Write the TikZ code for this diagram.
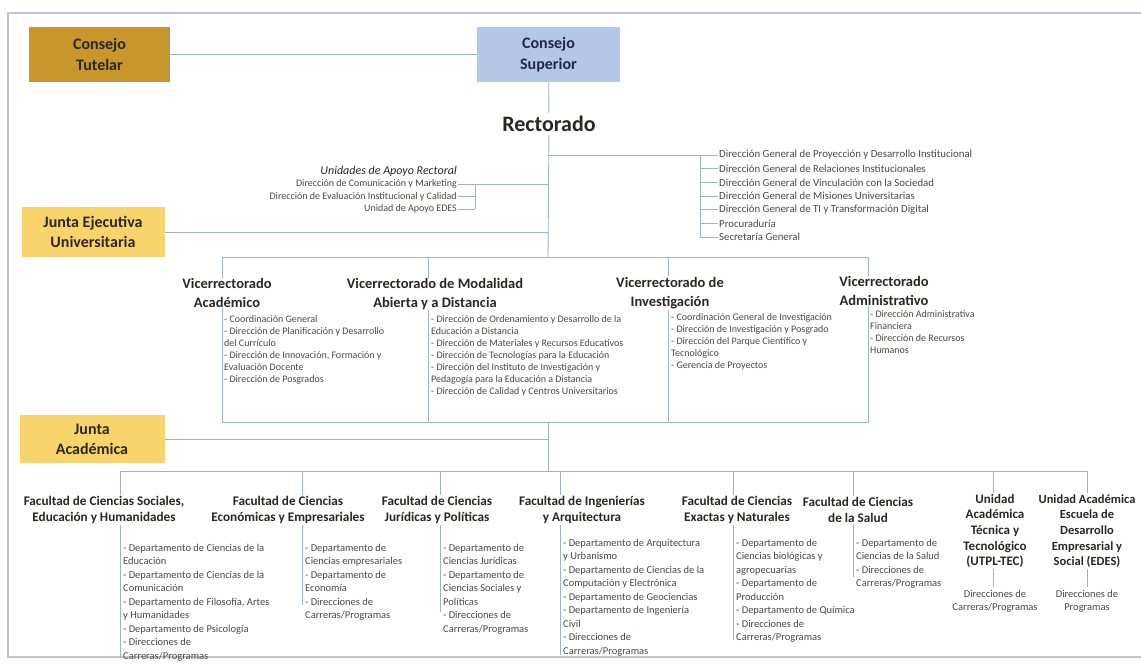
\documentclass[tikz,border=0pt]{standalone}
\usepackage{fontspec}
\setmainfont{Carlito}
\usetikzlibrary{positioning}
\definecolor{tutelar}{HTML}{C9962B}
\definecolor{superior}{HTML}{B4C7E7}
\definecolor{junta}{HTML}{F9D46C}
\definecolor{linea}{HTML}{9DB3C8}
\definecolor{marco}{HTML}{B9C5D0}
\definecolor{tinta}{HTML}{2B2720}
\definecolor{azul}{HTML}{1F2A44}
\newcommand{\fs}[2]{\fontsize{#1}{#2}\selectfont}
\tikzset{
  conn/.style={draw=linea, line width=0.9pt},
  organo/.style n args={2}{minimum width=#1, minimum height=#2, inner sep=0pt,
    align=center, text=tinta},
  vice/.style={fill=white, align=center, inner sep=1pt, text=tinta,
    font=\fs{14.5}{18.5}\bfseries},
  facu/.style={fill=white, align=center, inner sep=1pt, text=tinta,
    font=\fs{13.2}{16}\bfseries},
  lista/.style={align=left, anchor=north west, inner sep=1pt, text=tinta!85,
    font=\fs{10}{12}},
  flista/.style={lista, font=\fs{10.5}{13.5}},
  item/.style={inner sep=1pt, text=tinta!85, font=\fs{#1}{12}},
}

\begin{document}
\begin{tikzpicture}[x=1pt,y=-1pt]
\useasboundingbox (0,0) rectangle (1141,664);
% marco
\draw[marco, line width=1.5pt] (1150,13) -- (8,13) -- (8,657) -- (1150,657);

% consejos y rectorado
\node[organo={141}{55}, fill=tutelar, font=\fs{16}{21}\bfseries] (tutelar) at (99.5,54.5) {Consejo\\Tutelar};
\node[organo={143}{55}, fill=superior, text=azul, font=\fs{16}{21}\bfseries] (superior) at (548.5,54.5) {Consejo\\Superior};
\node[font=\fs{22}{25}\bfseries, text=tinta] (rectorado) at (549,124) {Rectorado};
\draw[conn] (tutelar) -- (superior);
\draw[conn] (superior) -- (rectorado);
\coordinate (vtop) at (548,257);
\draw[conn] (rectorado) -- (vtop);

% direcciones generales
\coordinate (r1) at (548,155);
\coordinate (dgv) at (700,155);
\foreach \t [count=\i] in {Dirección General de Proyección y Desarrollo Institucional,
    Dirección General de Relaciones Institucionales,
    Dirección General de Vinculación con la Sociedad,
    Dirección General de Misiones Universitarias,
    Dirección General de TI y Transformación Digital,
    Procuraduría, Secretaría General}
  \node[item=10.8, anchor=west] (dg\i) at (718,{141.3+13.7*\i}) {\t};
\draw[conn] (r1) -- (dg1.west);
\draw[conn] (dgv) -- (dgv |- dg7.west);
\foreach \i in {2,...,7}
  \draw[conn] (dg\i.west) -- (dg\i.west -| dgv);

% unidades de apoyo rectoral
\node[anchor=east, inner sep=1pt, text=tinta, font=\fs{12}{14}\itshape] (uar) at (458,171) {Unidades de Apoyo Rectoral};
\foreach \t [count=\i] in {Dirección de Comunicación y Marketing,
    Dirección de Evaluación Institucional y Calidad,
    Unidad de Apoyo EDES}
  \node[item=10, anchor=east] (ua\i) at (458,{171.5+12.5*\i}) {\t};
\coordinate (r2) at (548,184);
\coordinate (uav) at (475,184);
\draw[conn] (r2) -- (uav) -- (uav |- ua3.east);
\foreach \i in {1,2,3}
  \draw[conn] (ua\i.east) -- (ua\i.east -| uav);

% junta ejecutiva
\node[organo={143}{50}, fill=junta, font=\fs{16}{20}\bfseries] (jeu) at (93,232) {Junta Ejecutiva\\Universitaria};
\draw[conn] (jeu.east) -- (jeu.east -| vtop);

% vicerrectorados
\coordinate (v1) at (222,257);
\coordinate (v2) at (428,257);
\coordinate (v3) at (668,257);
\coordinate (v4) at (868,257);
\coordinate (vbot) at (548,422);
\draw[conn] (v1) rectangle (v4 |- vbot);
\draw[conn] (v2) -- (v2 |- vbot);
\draw[conn] (v3) -- (v3 |- vbot);
\node[vice] (vac) at (227,293) {Vicerrectorado\\Académico};
\node[vice] (vmad) at (435,294) {Vicerrectorado de Modalidad\\Abierta y a Distancia};
\node[vice] (vin) at (670,293) {Vicerrectorado de\\Investigación};
\node[vice] (vad) at (884,291) {Vicerrectorado\\Administrativo};
\node[lista] (lac) at (223,314) {- Coordinación General\\- Dirección de Planificación y Desarrollo\\del Currículo\\- Dirección de Innovación, Formación y\\Evaluación Docente\\- Dirección de Posgrados};
\node[lista] (lmad) at (430,314) {- Dirección de Ordenamiento y Desarrollo de la\\Educación a Distancia\\- Dirección de Materiales y Recursos Educativos\\- Dirección de Tecnologías para la Educación\\- Dirección del Instituto de Investigación y\\Pedagogía para la Educación a Distancia\\- Dirección de Calidad y Centros Universitarios};
\node[lista] (lin) at (670,312) {- Coordinación General de Investigación\\- Dirección de Investigación y Posgrado\\- Dirección del Parque Científico y\\Tecnológico\\- Gerencia de Proyectos};
\node[lista] (lad) at (869,309) {- Dirección Administrativa\\Financiera\\- Dirección de Recursos\\Humanos};

% junta academica
\node[organo={145}{48}, fill=junta, font=\fs{16}{20}\bfseries] (jac) at (92,439) {Junta\\Académica};
\draw[conn] (jac.east) -- (jac.east -| vbot);

% facultades
\foreach \x/\e [count=\i] in {120/657, 302/605, 440/612, 560/655, 733/640, 853/577, 993/587, 1087/587} {
  \coordinate (f\i) at (\x,471);
  \coordinate (fe\i) at (\x,\e);
  \draw[conn] (f\i) -- (fe\i);
}
\draw[conn] (f1) -- (f8);
\draw[conn] (vbot) -- (vbot |- f1);
\node[facu] (fcs) at (104,510) {Facultad de Ciencias Sociales,\\Educación y Humanidades};
\node[facu] (fce) at (288,510) {Facultad de Ciencias\\Económicas y Empresariales};
\node[facu] (fcj) at (437,510) {Facultad de Ciencias\\Jurídicas y Políticas};
\node[facu] (fia) at (582,510) {Facultad de Ingenierías\\y Arquitectura};
\node[facu] (fcn) at (737,510) {Facultad de Ciencias\\Exactas y Naturales};
\node[facu] (fsa) at (858,510) {Facultad de Ciencias\\de la Salud};
\node[facu, font=\fs{13}{15.7}\bfseries] (tec) at (995,531) {Unidad\\Académica\\Técnica y\\Tecnológico\\(UTPL-TEC)};
\node[facu, font=\fs{12.5}{15.7}\bfseries] (edes) at (1087,531) {Unidad Académica\\Escuela de\\Desarrollo\\Empresarial y\\Social (EDES)};
\node[flista] (lcs) at (122,543) {- Departamento de Ciencias de la\\Educación\\- Departamento de Ciencias de la\\Comunicación\\- Departamento de Filosofía, Artes\\y Humanidades\\- Departamento de Psicología\\- Direcciones de\\Carreras/Programas};
\node[flista] (lce) at (304,543) {- Departamento de\\Ciencias empresariales\\- Departamento de\\Economía\\- Direcciones de\\Carreras/Programas};
\node[flista] (lcj) at (442,543) {- Departamento de\\Ciencias Jurídicas\\- Departamento de\\Ciencias Sociales y\\Políticas\\- Direcciones de\\Carreras/Programas};
\node[flista] (lia) at (562,538) {- Departamento de Arquitectura\\y Urbanismo\\- Departamento de Ciencias de la\\Computación y Electrónica\\- Departamento de Geociencias\\- Departamento de Ingeniería\\Civil\\- Direcciones de\\Carreras/Programas};
\node[flista] (lcn) at (735,538) {- Departamento de\\Ciencias biológicas y\\agropecuarias\\- Departamento de\\Producción\\- Departamento de Química\\- Direcciones de\\Carreras/Programas};
\node[flista] (lsa) at (855,538) {- Departamento de\\Ciencias de la Salud\\- Direcciones de\\Carreras/Programas};
\node[flista, anchor=north, align=center] (ltec) at (995,589) {Direcciones de\\Carreras/Programas};
\node[flista, anchor=north, align=center] (ledes) at (1087,589) {Direcciones de\\Programas};
\end{tikzpicture}
\end{document}
